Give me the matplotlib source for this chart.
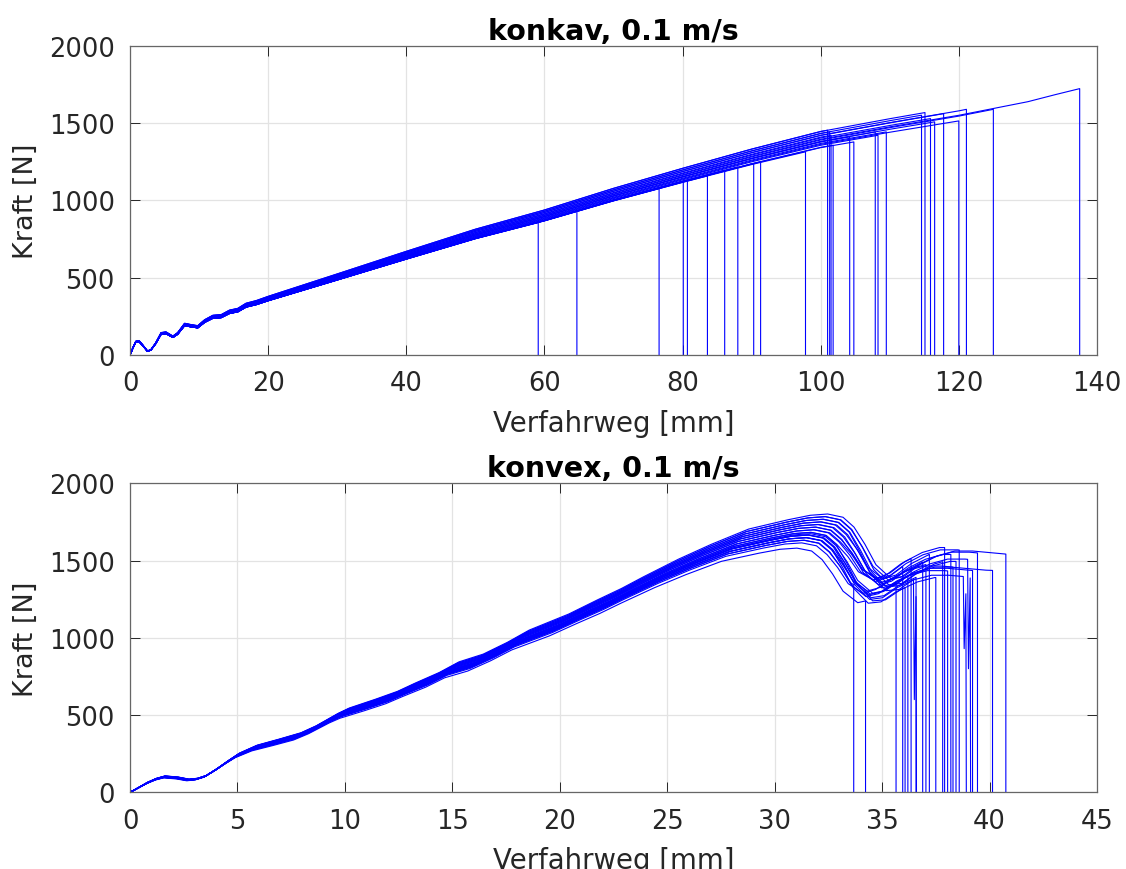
import numpy as np
import matplotlib
matplotlib.use("Agg")
import matplotlib.pyplot as plt

# ---------------------------------------------------------------
# konkav, 0.1 m/s: mean force path and failure point of each specimen
# ---------------------------------------------------------------
konkav_weg = [0, 0.4, 0.83, 1.3, 1.8, 2.5, 3.0, 3.7, 4.5, 5.2, 6.2, 6.9,
              7.9, 8.8, 9.8, 10.8, 12.0, 13.2, 14.4, 15.6, 16.8, 18.3, 20,
              30, 40, 50, 60, 70, 80, 90, 100, 110, 120, 125, 130, 134, 138]
konkav_kraft = [0, 45, 86, 90, 65, 26, 32, 75, 140, 144, 118, 140,
                198, 190, 183, 220, 248, 252, 280, 291, 323, 340, 366,
                506, 647, 785, 905, 1040, 1165, 1285, 1395, 1475, 1550,
                1594, 1638, 1684, 1728]

konkav_bruch_weg = [59.1, 64.7, 76.6, 80.1, 80.7, 83.6, 86.1, 88.0, 90.3,
                    91.3, 97.8, 101.0, 101.3, 101.5, 101.8, 104.2, 104.8,
                    107.9, 108.3, 109.5, 114.6, 115.1, 115.9, 116.5, 117.8,
                    120.0, 121.1, 125.0, 137.5]
konkav_bruch_kraft = [857, 931, 1078, 1121, 1131, 1159, 1196, 1218, 1239,
                      1250, 1315, 1455, 1444, 1422, 1358, 1412, 1379, 1444,
                      1422, 1444, 1552, 1569, 1530, 1509, 1562, 1515, 1590,
                      1590, 1724]

# ---------------------------------------------------------------
# konvex, 0.1 m/s: mean force path, per-specimen scaling and failure
# ---------------------------------------------------------------
konvex_weg = [0, 0.4, 0.8, 1.2, 1.6, 2.2, 2.7, 3.1, 3.5, 4.0, 4.5, 5.0,
              5.8, 6.8, 7.8, 8.5, 9.5, 10.0, 11.2, 12.2, 13.0, 14.1, 15.0,
              16.1, 17.2, 18.2, 20.0, 21.3, 22.4, 23.4, 25.0, 26.5, 28.2,
              30.0, 31.0, 31.8, 32.5, 33.0, 33.5, 34.0, 34.7, 35.3, 36.0,
              36.8, 37.6, 38.4, 39.2, 40.0, 41.0]
konvex_kraft = [0, 30, 61, 85, 100, 93, 80, 86, 104, 147, 195, 240,
                288, 325, 364, 407, 483, 515, 569, 617, 667, 732, 797,
                844, 916, 991, 1089, 1175, 1245, 1316, 1424, 1515, 1608,
                1665, 1692, 1700, 1680, 1620, 1520, 1400, 1320, 1340, 1410,
                1465, 1495, 1495, 1485, 1475, 1470]

konvex_bruch_weg = [33.68, 34.23, 35.65, 35.96, 36.07, 36.20, 36.35, 36.46,
                    36.58, 36.89, 37.04, 37.20, 37.50, 37.82, 37.91, 38.05,
                    38.20, 38.30, 38.44, 38.59, 38.78, 38.98, 39.21, 39.44,
                    40.14, 40.76]
# force factor up to the peak and after the drop (second rise)
konvex_faktor_kraft = [0.96, 0.93, 0.98, 1.00, 0.97, 1.02, 0.99, 1.04, 0.98,
                       1.01, 0.97, 1.03, 0.99, 1.05, 1.00, 0.96, 1.02, 0.95,
                       1.04, 1.01, 0.98, 1.03, 0.97, 1.05, 0.985, 1.06]
konvex_faktor_rest = [0.98, 0.93, 0.97, 1.04, 0.92, 1.00, 1.05, 0.98, 0.95,
                      1.02, 0.99, 1.05, 0.93, 1.01, 1.06, 0.96, 1.03, 0.98,
                      1.00, 1.05, 0.94, 1.01, 0.97, 1.04, 0.975, 1.045]
konvex_faktor_weg = [0.986, 0.976, 0.993, 1.000, 0.990, 1.008, 0.997, 1.014,
                     0.994, 1.004, 0.989, 1.010, 0.996, 1.018, 1.002, 0.987,
                     1.006, 0.983, 1.015, 1.003, 0.992, 1.012, 0.991, 1.017,
                     0.996, 1.021]
# specimens whose force briefly recovers after the first drop
konvex_rueck_index = [7, 20, 21]
konvex_rueck_min = [600, 930, 800]

BLUE = (0.0, 0.0, 1.0)
LW = 0.8
FS = 19.5


def draw_konkav(ax):
    xb = np.asarray(konkav_weg, float)
    yb = np.asarray(konkav_kraft, float)
    for xe, ye in zip(konkav_bruch_weg, konkav_bruch_kraft):
        f = ye / np.interp(xe, xb, yb)
        m = xb < xe
        x = np.concatenate([xb[m], [xe, xe]])
        y = np.concatenate([yb[m] * f, [ye, 0.0]])
        ax.plot(x, y, color=BLUE, lw=LW)


def konvex_kurve(xq, s, r):
    """Mean konvex path at base positions xq, scaled by s before and r after the drop."""
    xb = np.asarray(konvex_weg, float)
    yb = np.asarray(konvex_kraft, float)
    w = np.clip((np.asarray(xq, float) - 33.0) / 2.0, 0.0, 1.0)
    return np.interp(xq, xb, yb) * (s * (1.0 - w) + r * w)


def draw_konvex(ax):
    xb = np.asarray(konvex_weg, float)
    rueck = dict(zip(konvex_rueck_index, konvex_rueck_min))
    for i, (xe, s, r, k) in enumerate(zip(konvex_bruch_weg, konvex_faktor_kraft,
                                          konvex_faktor_rest, konvex_faktor_weg)):
        m = xb * k < xe
        x = list(xb[m] * k) + [xe]
        y = list(konvex_kurve(xb[m], s, r)) + [float(konvex_kurve(xe / k, s, r))]
        ye = y[-1]
        if i in rueck:
            x += [xe + 0.04, xe + 0.12]
            y += [rueck[i], ye * 0.92]
            xe = xe + 0.14
        x += [xe]
        y += [0.0]
        ax.plot(x, y, color=BLUE, lw=LW)


def style(ax, title, xmax, xstep):
    ax.set_xlim(0, xmax)
    ax.set_ylim(0, 2000)
    ax.set_xticks(np.arange(0, xmax + 0.1, xstep))
    ax.set_yticks(np.arange(0, 2001, 500))
    ax.grid(True, color="#e3e3e3", lw=0.9)
    ax.set_axisbelow(True)
    ax.tick_params(direction="in", length=7, width=0.7, top=True, right=True,
                   labelsize=18.5, colors="#262626", pad=11)
    for sp in ax.spines.values():
        sp.set_color("#666666")
        sp.set_linewidth(0.9)
    ax.set_title(title, fontsize=FS + 1, fontweight="bold", pad=5)
    ax.set_xlabel("Verfahrweg [mm]", fontsize=FS + 0.3, color="#262626", labelpad=9)
    ax.set_ylabel("Kraft [N]", fontsize=FS, color="#262626", labelpad=7)


fig = plt.figure(figsize=(11.26, 8.70), dpi=100)
ax1 = fig.add_axes([0.1155, 0.5908, 0.8587, 0.3552])
ax2 = fig.add_axes([0.1155, 0.0882, 0.8587, 0.3550])

draw_konkav(ax1)
style(ax1, "konkav, 0.1 m/s", 140, 20)
draw_konvex(ax2)
style(ax2, "konvex, 0.1 m/s", 45, 5)

fig.savefig("out.png", dpi=100)
